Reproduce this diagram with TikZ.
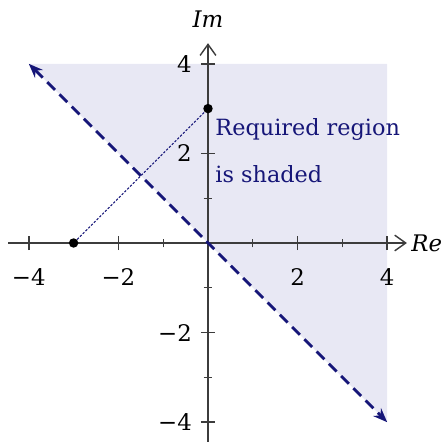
\documentclass[tikz,border=0pt]{standalone}
\usepackage{fontspec}
\setmainfont{DejaVu Serif}
\usetikzlibrary{arrows.meta}
\definecolor{navy}{RGB}{22,22,120}
\definecolor{regionfill}{RGB}{232,232,244}
\definecolor{axisgray}{RGB}{60,60,60}
\tikzset{
  axis/.style={draw=axisgray, line width=0.9pt, -{Straight Barb[length=7pt,width=10pt,line width=0.9pt]}},
  majortick/.style={draw=axisgray, line width=0.9pt},
  minortick/.style={draw=axisgray, line width=0.8pt},
  boundary/.style={draw=navy, line width=1.8pt, dash pattern=on 7pt off 4pt,
    {Stealth[length=9pt,width=7pt]}-{Stealth[length=9pt,width=7pt]}},
  joinline/.style={draw=navy, line width=0.6pt, dash pattern=on 1.5pt off 1pt},
  pt/.style={circle, fill=black, inner sep=0pt, minimum size=6pt},
  numlab/.style={font=\fontsize{14.5}{17}\selectfont, inner sep=1pt},
  axlab/.style={font=\fontsize{14.5}{17}\selectfont\itshape, inner sep=1pt},
  note/.style={font=\fontsize{14.2}{17}\selectfont, text=navy, inner sep=0pt, anchor=base west}
}
\begin{document}
\begin{tikzpicture}
\useasboundingbox (-4.643,-4.442) rectangle (5.335,5.424);
% shaded region
\fill[regionfill] (-4,4) -- (4,4) -- (4,-4) -- cycle;
% axes
\coordinate (xs) at (-4.46,0);
\coordinate (xe) at (4.44,0);
\coordinate (ys) at (0,-4.5);
\coordinate (ye) at (0,4.46);
\draw[axis] (xs) -- (xe);
\draw[axis] (ys) -- (ye);
% ticks
\foreach \t in {-4,-2,2,4}{
  \draw[majortick] (\t,-0.16) -- (\t,0.16);
  \draw[majortick] (-0.16,\t) -- (0.16,\t);
}
\foreach \t in {-3,-1,1,3}{
  \draw[minortick] (\t,-0.1) -- (\t,0.1);
  \draw[minortick] (-0.1,\t) -- (0.1,\t);
}
% tick labels
\node[numlab] (xm4) at (-4,-0.76) {−4};
\node[numlab] (xm2) at (-2,-0.76) {−2};
\node[numlab] (x2) at (2,-0.76) {2};
\node[numlab] (x4) at (4,-0.76) {4};
\node[numlab, anchor=east] (y4) at (-0.32,4) {4};
\node[numlab, anchor=east] (y2) at (-0.32,2) {2};
\node[numlab, anchor=east] (ym2) at (-0.32,-2) {−2};
\node[numlab, anchor=east] (ym4) at (-0.32,-4) {−4};
% axis labels
\node[axlab, anchor=west] (re) at (4.5,0) {Re};
\node[axlab] (im) at (0,5.0) {Im};
% boundary line
\coordinate (b1) at (-4,4);
\coordinate (b2) at (4,-4);
\draw[boundary] (b1) -- (b2);
% points and join
\node[pt] (p1) at (-3,0) {};
\node[pt] (p2) at (0,3) {};
\draw[joinline] (p1) -- (p2);
% note
\node[note] (n1) at (0.16,2.39) {Required region};
\node[note] (n2) at (0.16,1.34) {is shaded};
\end{tikzpicture}
\end{document}
